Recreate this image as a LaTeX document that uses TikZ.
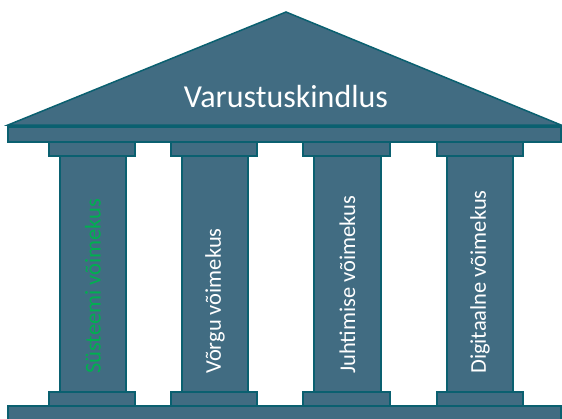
\documentclass[tikz,border=0pt]{standalone}
\usepackage{fontspec}
\setmainfont{Carlito}
\definecolor{pillarfill}{RGB}{65,108,130}
\definecolor{pillarline}{RGB}{10,96,112}
\definecolor{textgreen}{RGB}{0,176,80}

\begin{document}
\begin{tikzpicture}[x=1pt,y=-1pt]
\tikzset{part/.style={fill=pillarfill, draw=pillarline, line width=1.5pt, line join=miter},
  pillartext/.style={anchor=west, rotate=90, inner sep=0pt, text=white, font=\fontsize{22.5}{26}\selectfont}}

\useasboundingbox (0,0) rectangle (562,418);
\clip (0,0) rectangle (562,418);

% roof and beam
\draw [part] (8,125) -- (286,12) -- (561,125) -- cycle;
\draw [part] (8,127) rectangle (561,142);
\node (roof) [text=white, font=\fontsize{32}{38}\selectfont] at (286,97) {Varustuskindlus};

% pillars
\draw [part] (60,156) rectangle (126,392);
\draw [part] (49,142) rectangle (135,156);
\draw [part] (49,392) rectangle (135,406);
\draw [part] (182,156) rectangle (248,392);
\draw [part] (171,142) rectangle (257,156);
\draw [part] (171,392) rectangle (257,406);
\draw [part] (314,156) rectangle (381,392);
\draw [part] (303,142) rectangle (390,156);
\draw [part] (303,392) rectangle (390,406);
\draw [part] (447,156) rectangle (513,392);
\draw [part] (437,142) rectangle (523,156);
\draw [part] (437,392) rectangle (523,406);

% base
\draw [part] (8,406) rectangle (561,422);

\node (system) [pillartext, text=textgreen] at (93,374) {Süsteemi võimekus};
\node (network) [pillartext] at (215,374) {Võrgu võimekus};
\node (command) [pillartext] at (347.5,374) {Juhtimise võimekus};
\node (digital) [pillartext] at (480,374) {Digitaalne võimekus};
\end{tikzpicture}
\end{document}
